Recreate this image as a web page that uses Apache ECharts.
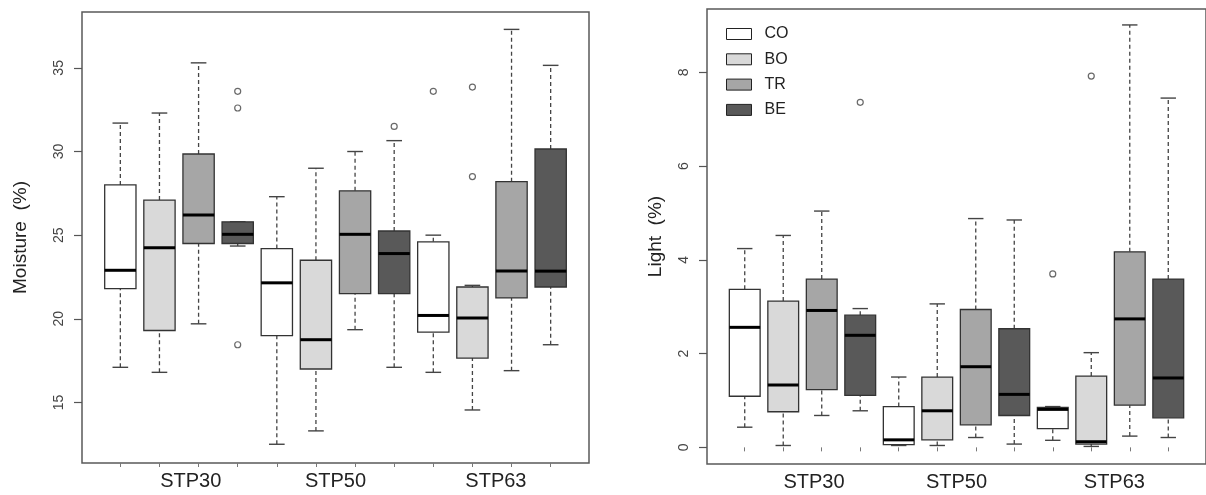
<!DOCTYPE html>
<html>
<head>
<meta charset="utf-8">
<script src="https://cdn.jsdelivr.net/npm/echarts@6/dist/echarts.min.js"></script>
<style>
  html, body { margin: 0; padding: 0; background: #fff; }
  #chart { width: 1206px; height: 495px; }
</style>
</head>
<body>
<div id="chart"></div>
<script>
const groups = ['STP30', 'STP50', 'STP63'];
const treatments = ['CO', 'BO', 'TR', 'BE'];

// [lower whisker, Q1, median, Q3, upper whisker], one row per group
const moistureCO = [[17.1, 21.8, 22.9, 28.0, 31.7], [12.5, 19.0, 22.15, 24.2, 27.3], [16.8, 19.2, 20.2, 24.6, 25.0]];
const moistureBO = [[16.8, 19.3, 24.25, 27.1, 32.3], [13.3, 17.0, 18.75, 23.5, 29.0], [14.55, 17.65, 20.05, 21.9, 22.0]];
const moistureTR = [[19.7, 24.5, 26.2, 29.85, 35.3], [19.35, 21.5, 25.05, 27.65, 30.0], [16.9, 21.25, 22.85, 28.2, 37.3]];
const moistureBE = [[24.35, 24.5, 25.05, 25.8, 25.8], [17.1, 21.5, 23.9, 25.25, 30.65], [18.45, 21.9, 22.85, 30.15, 35.15]];
const moistureOutliers = [['STP30', 'BE', 33.6], ['STP30', 'BE', 32.6], ['STP30', 'BE', 18.45],
  ['STP50', 'BE', 31.5], ['STP63', 'CO', 33.6], ['STP63', 'BO', 33.85], ['STP63', 'BO', 28.5]];

const lightCO = [[0.43, 1.09, 2.56, 3.37, 4.24], [0.04, 0.06, 0.16, 0.87, 1.50], [0.15, 0.40, 0.81, 0.85, 0.87]];
const lightBO = [[0.04, 0.76, 1.33, 3.12, 4.52], [0.04, 0.16, 0.78, 1.50, 3.06], [0.02, 0.07, 0.12, 1.52, 2.02]];
const lightTR = [[0.68, 1.23, 2.92, 3.59, 5.04], [0.21, 0.48, 1.72, 2.94, 4.88], [0.24, 0.90, 2.74, 4.17, 9.01]];
const lightBE = [[0.78, 1.11, 2.39, 2.82, 2.96], [0.07, 0.68, 1.13, 2.53, 4.85], [0.21, 0.63, 1.48, 3.59, 7.45]];
const lightOutliers = [['STP30', 'BE', 7.36], ['STP63', 'CO', 3.70], ['STP63', 'BO', 7.92]];

const moistureTicks = [15, 20, 25, 30, 35];
const lightTicks = [0, 2, 4, 6, 8];

const fills = ['#ffffff', '#d9d9d9', '#a6a6a6', '#595959'];
const font = "'Liberation Sans', Arial, sans-serif";

// box position on the x scale, R style: 1..12
function boxPos(g, t) {
  return groups.indexOf(g) * treatments.length + treatments.indexOf(t) + 1;
}

function renderBox(params, api) {
  const x = api.value(0);
  const lo = api.coord([x, api.value(1)]);
  const q1 = api.coord([x, api.value(2)]);
  const md = api.coord([x, api.value(3)]);
  const q3 = api.coord([x, api.value(4)]);
  const hi = api.coord([x, api.value(5)]);
  const bw = api.size([0.8, 0])[0];
  const cw = bw / 2;
  const cx = lo[0];
  const dash = { stroke: '#444', lineWidth: 1.3, lineDash: [4, 3] };
  const solid = { stroke: '#444', lineWidth: 1.4 };
  return {
    type: 'group',
    children: [
      { type: 'line', shape: { x1: cx, y1: q3[1], x2: cx, y2: hi[1] }, style: dash },
      { type: 'line', shape: { x1: cx, y1: lo[1], x2: cx, y2: q1[1] }, style: dash },
      { type: 'line', shape: { x1: cx - cw / 2, y1: hi[1], x2: cx + cw / 2, y2: hi[1] }, style: solid },
      { type: 'line', shape: { x1: cx - cw / 2, y1: lo[1], x2: cx + cw / 2, y2: lo[1] }, style: solid },
      { type: 'rect', shape: { x: cx - bw / 2, y: q3[1], width: bw, height: q1[1] - q3[1] },
        style: { fill: api.visual('color'), stroke: '#333', lineWidth: 1.3 } },
      { type: 'line', shape: { x1: cx - bw / 2, y1: md[1], x2: cx + bw / 2, y2: md[1] },
        style: { stroke: '#000', lineWidth: 3 } }
    ]
  };
}

function boxSeries(name, rows, idx, fill) {
  return {
    name: name,
    type: 'custom',
    xAxisIndex: idx,
    yAxisIndex: idx,
    itemStyle: { color: fill, borderColor: '#222', borderWidth: 1 },
    renderItem: renderBox,
    encode: { x: 0, y: [1, 2, 3, 4, 5] },
    data: rows.map((r, g) => [boxPos(groups[g], name)].concat(r)),
    z: 2
  };
}

function outlierSeries(list, idx) {
  return {
    name: 'outliers',
    type: 'scatter',
    xAxisIndex: idx,
    yAxisIndex: idx,
    symbol: 'circle',
    symbolSize: 6,
    itemStyle: { color: '#fff', borderColor: '#444', borderWidth: 1.2 },
    data: list.map(o => [boxPos(o[0], o[1]), o[2]]),
    z: 3
  };
}

const labelAt = [2.8, 6.5, 10.6];

function xAxis(idx) {
  return {
    type: 'value',
    gridIndex: idx,
    min: 0.02,
    max: 12.98,
    axisLine: { show: false },
    splitLine: { show: false },
    axisTick: { show: true, length: 4, lineStyle: { color: '#777', width: 1 },
      customValues: groups.flatMap((g, gi) => treatments.map((t, ti) => gi * 4 + ti + 1)) },
    axisLabel: {
      customValues: labelAt,
      formatter: v => groups[labelAt.indexOf(v)] || '',
      fontFamily: font, fontSize: 20, color: '#222', margin: 8
    }
  };
}

function yAxis(idx, name, min, max, ticks, nameGap, margin) {
  return {
    type: 'value',
    gridIndex: idx,
    min: min,
    max: max,
    name: name,
    nameLocation: 'middle',
    nameGap: nameGap,
    nameTextStyle: { fontFamily: font, fontSize: 19, color: '#222' },
    axisLine: { show: false },
    splitLine: { show: false },
    axisTick: { show: true, length: 8, customValues: ticks, lineStyle: { color: '#555', width: 1.2 } },
    axisLabel: { customValues: ticks, rotate: 90, fontFamily: font, fontSize: 14, color: '#444', margin: 16 }
  };
}

const chart = echarts.init(document.getElementById('chart'), null, { renderer: 'canvas' });

const series = [];
[moistureCO, moistureBO, moistureTR, moistureBE].forEach((rows, i) => series.push(boxSeries(treatments[i], rows, 0, fills[i])));
[lightCO, lightBO, lightTR, lightBE].forEach((rows, i) => series.push(boxSeries(treatments[i], rows, 1, fills[i])));
series.push(outlierSeries(moistureOutliers, 0));
series.push(outlierSeries(lightOutliers, 1));

chart.setOption({
  animation: false,
  backgroundColor: '#fff',
  grid: [
    { left: 82, top: 12, width: 507, height: 451, show: true, borderColor: '#5a5a5a', borderWidth: 1.5, backgroundColor: 'transparent' },
    { left: 707, top: 9, width: 505, height: 455, show: true, borderColor: '#5a5a5a', borderWidth: 1.5, backgroundColor: 'transparent' }
  ],
  legend: {
    orient: 'vertical',
    left: 726,
    top: 26,
    itemWidth: 25,
    itemHeight: 11,
    itemGap: 9.3,
    icon: 'rect',
    padding: 0,
    selectedMode: false,
    textStyle: { fontFamily: font, fontSize: 16, color: '#222', lineHeight: 14, padding: [0, 0, 0, 8] },
    data: treatments.map((t, i) => ({ name: t, itemStyle: { color: fills[i], borderColor: '#222', borderWidth: 1 } }))
  },
  xAxis: [xAxis(0), xAxis(1)],
  yAxis: [
    yAxis(0, 'Moisture  (%)', 11.38, 38.34, moistureTicks, 52, 17),
    yAxis(1, 'Light  (%)', -0.355, 9.35, lightTicks, 42, 19)
  ],
  series: series
});
</script>
</body>
</html>
